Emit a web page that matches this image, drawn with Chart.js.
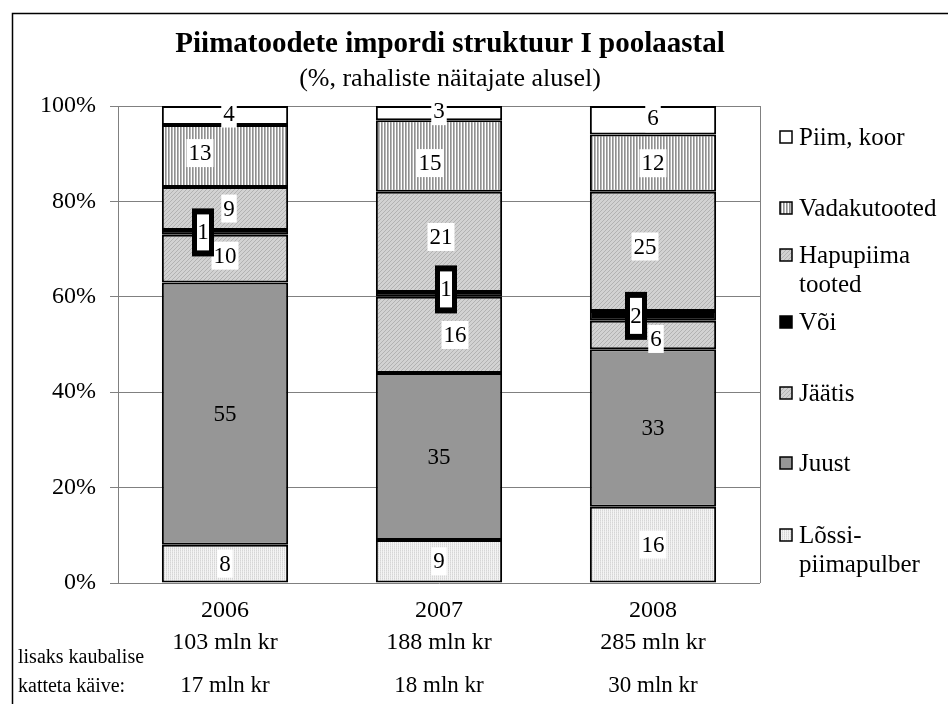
<!DOCTYPE html>
<html>
<head>
<meta charset="utf-8">
<script src="https://cdn.jsdelivr.net/npm/chart.js@4.4.0/dist/chart.umd.min.js"></script>
<style>
  html, body { margin: 0; padding: 0; background: #fff; }
  #wrap { width: 948px; height: 704px; }
</style>
</head>
<body>
<div id="wrap"><canvas id="graafik" width="948" height="704"></canvas></div>
<script>
// Andmed (% rahalisest väärtusest)
const aastad = ['2006', '2007', '2008'];
const importKokku = ['103 mln kr', '188 mln kr', '285 mln kr'];
const katteta = ['17 mln kr', '18 mln kr', '30 mln kr'];

const lossipiimapulber = [8, 9, 16];
const juust = [55, 35, 33];
const jaatis = [10, 16, 6];
const voi = [1, 1, 2];
const hapupiimatooted = [9, 21, 25];
const vadakutooted = [13, 15, 12];
const piimKoor = [4, 3, 6];

const yTicks = [0, 20, 40, 60, 80, 100];

const SERIF = "'Liberation Serif', 'Times New Roman', serif";

const canvas = document.getElementById('graafik');
const ctx = canvas.getContext('2d');

// mustrid
function muster(w, h, joonista) {
    const c = document.createElement('canvas');
    c.width = w; c.height = h;
    joonista(c.getContext('2d'));
    return ctx.createPattern(c, 'repeat');
}
const triibud = muster(3, 2, g => {
    g.fillStyle = '#ffffff'; g.fillRect(0, 0, 3, 2);
    g.fillStyle = '#909090'; g.fillRect(0, 0, 1, 2);
    g.fillStyle = '#b8b8b8'; g.fillRect(1, 0, 1, 2);
});
const viirutus = muster(4, 4, g => {
    g.fillStyle = '#d2d2d2'; g.fillRect(0, 0, 4, 4);
    g.fillStyle = '#b2b2b2';
    for (let i = 0; i < 4; i++) g.fillRect(i, 3 - i, 1, 1);
});
const tapid = muster(2, 2, g => {
    g.fillStyle = '#f4f4f4'; g.fillRect(0, 0, 2, 2);
    g.fillStyle = '#d6d6d6'; g.fillRect(0, 0, 1, 1);
    g.fillStyle = '#e2e2e2'; g.fillRect(0, 1, 1, 1);
});

// siltide nihked (dx, dy) iga seeria ja aasta kohta
const siltNihe = [
    [[0, 0], [0, 0], [0, 0]],
    [[0, 0], [0, 0], [0, 0]],
    [[0, -3], [16, 0], [3, 4]],
    [[-22, 0], [7, -5], [-17, 0]],
    [[4, 0], [2, -5], [-8, -5]],
    [[-25, -3], [-9, 7], [0, 0]],
    [[4, -2], [0, -2], [0, -2]]
];

const andmeSildid = {
    id: 'andmeSildid',
    afterDatasetsDraw(chart) {
        const c = chart.ctx;
        c.save();
        c.font = '23px ' + SERIF;
        c.textAlign = 'center';
        c.textBaseline = 'middle';
        chart.data.datasets.forEach((ds, i) => {
            const meta = chart.getDatasetMeta(i);
            meta.data.forEach((bar, j) => {
                const txt = String(ds.data[j]);
                const x = bar.x + siltNihe[i][j][0];
                const y = (bar.y + bar.base) / 2 + siltNihe[i][j][1];
                const w = c.measureText(txt).width;
                if (ds.label === 'Või') {
                    c.fillStyle = '#000';
                    c.fillRect(x - 11, y - 24, 22, 48);
                    c.fillStyle = '#fff';
                    c.fillRect(x - 6, y - 18, 12, 36);
                } else if (ds.label !== 'Juust') {
                    c.fillStyle = '#fff';
                    c.fillRect(x - w / 2 - 2, y - 14, w + 4, 28);
                }
                c.fillStyle = '#000';
                c.fillText(txt, x, y + 1);
            });
        });
        c.restore();
    }
};

// legend paremal, ülevalt alla
const legendRead = [
    { ds: 6, read: ['Piim, koor'], y: 137 },
    { ds: 5, read: ['Vadakutooted'], y: 208 },
    { ds: 4, read: ['Hapupiima', 'tooted'], y: 255 },
    { ds: 3, read: ['Või'], y: 322 },
    { ds: 2, read: ['Jäätis'], y: 393 },
    { ds: 1, read: ['Juust'], y: 463 },
    { ds: 0, read: ['Lõssi-', 'piimapulber'], y: 535 }
];

const raam = {
    id: 'raam',
    beforeDraw(chart) {
        const c = chart.ctx;
        c.save();
        c.fillStyle = '#fff';
        c.fillRect(0, 0, chart.width, chart.height);
        c.restore();
    },
    afterDraw(chart) {
        const c = chart.ctx;
        const a = chart.chartArea;
        c.save();
        // välimine raam
        c.strokeStyle = '#000';
        c.lineWidth = 1.5;
        c.strokeRect(12.5, 13.5, 1000, 1000);
        // joonise parem serv
        c.strokeStyle = '#808080';
        c.lineWidth = 1;
        c.beginPath();
        c.moveTo(Math.round(a.right) + 0.5, a.top);
        c.lineTo(Math.round(a.right) + 0.5, a.bottom);
        c.stroke();

        // pealkiri
        c.fillStyle = '#000';
        c.textAlign = 'center';
        c.textBaseline = 'middle';
        c.font = 'bold 29px ' + SERIF;
        c.fillText('Piimatoodete impordi struktuur I poolaastal', 450, 45);
        c.font = '26px ' + SERIF;
        c.fillText('(%, rahaliste näitajate alusel)', 450, 79);

        // kaubalise katteta käive
        const xs = chart.scales.x;
        c.font = '23px ' + SERIF;
        katteta.forEach((t, j) => c.fillText(t, xs.getPixelForValue(j), 686));
        c.textAlign = 'left';
        c.font = '20px ' + SERIF;
        c.fillText('lisaks kaubalise', 18, 658);
        c.fillText('katteta käive:', 18, 687);

        // legend
        legendRead.forEach(e => {
            const ds = chart.data.datasets[e.ds];
            c.fillStyle = ds.backgroundColor;
            c.fillRect(780, e.y - 6, 12, 12);
            c.strokeStyle = '#000';
            c.lineWidth = 1.5;
            c.strokeRect(780, e.y - 6, 12, 12);
            c.fillStyle = '#000';
            c.font = '25px ' + SERIF;
            e.read.forEach((r, k) => c.fillText(r, 799, e.y + k * 29 + 1));
        });
        c.restore();
    }
};

const seeriad = [
    { label: 'Lõssipiimapulber', data: lossipiimapulber, backgroundColor: tapid },
    { label: 'Juust', data: juust, backgroundColor: '#969696' },
    { label: 'Jäätis', data: jaatis, backgroundColor: viirutus },
    { label: 'Või', data: voi, backgroundColor: '#000000' },
    { label: 'Hapupiima tooted', data: hapupiimatooted, backgroundColor: viirutus },
    { label: 'Vadakutooted', data: vadakutooted, backgroundColor: triibud },
    { label: 'Piim, koor', data: piimKoor, backgroundColor: '#ffffff' }
].map(s => Object.assign(s, {
    borderColor: '#000',
    borderWidth: 2,
    borderSkipped: false,
    barPercentage: 0.59,
    categoryPercentage: 1.0
}));

new Chart(ctx, {
    type: 'bar',
    data: {
        labels: aastad.map((a, j) => [a, importKokku[j]]),
        datasets: seeriad
    },
    options: {
        responsive: false,
        animation: false,
        layout: { padding: { top: 106, right: 188, left: 0, bottom: 0 } },
        plugins: {
            legend: { display: false },
            title: { display: false },
            tooltip: { enabled: false }
        },
        scales: {
            x: {
                stacked: true,
                grid: { display: false },
                border: { display: false },
                ticks: {
                    color: '#000',
                    padding: 4,
                    maxRotation: 0,
                    font: { family: SERIF, size: 24, lineHeight: 1.33 }
                },
                afterFit: s => { s.height = 121; }
            },
            y: {
                stacked: true,
                min: 0,
                max: 100,
                afterBuildTicks: s => { s.ticks = yTicks.map(v => ({ value: v })); },
                grid: { color: '#808080', lineWidth: 1, tickLength: 8 },
                border: { display: true, color: '#808080', width: 1 },
                ticks: {
                    color: '#000',
                    padding: 14,
                    font: { family: SERIF, size: 24 },
                    callback: v => v + '%'
                },
                afterFit: s => { s.width = 118; }
            }
        }
    },
    plugins: [raam, andmeSildid]
});
</script>
</body>
</html>
